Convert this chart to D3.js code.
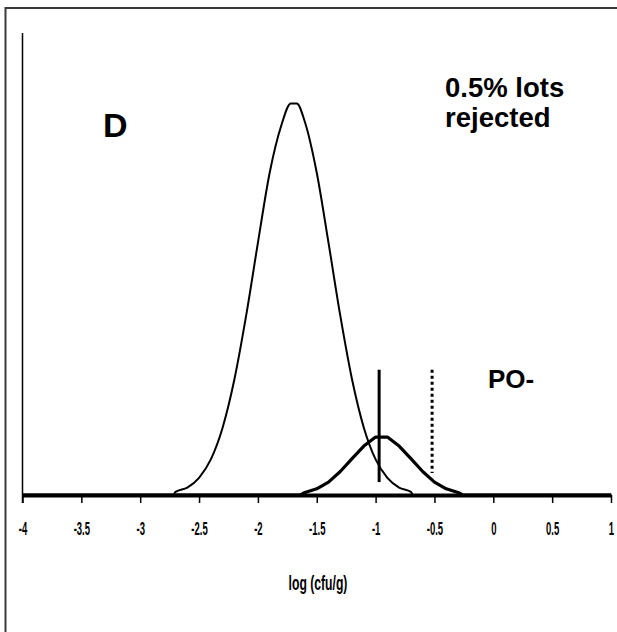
<!DOCTYPE html>
<html>
<head>
<meta charset="utf-8">
<script src="https://cdn.jsdelivr.net/npm/d3@7"></script>
<style>
html,body{margin:0;padding:0;background:#fff;}
svg{display:block;}
</style>
</head>
<body>
<svg id="chart" width="617" height="632"></svg>
<script>
// ---- data (y in relative density units) ----
const xTicks = [-4, -3.5, -3, -2.5, -2, -1.5, -1, -0.5, 0, 0.5, 1];
const tickLabels = ["-4", "-3.5", "-3", "-2.5", "-2", "-1.5", "-1", "-0.5", "0", "0.5", "1"];

const curveAX = [-4.0, -2.72, -2.7, -2.6, -2.5, -2.4, -2.3, -2.2, -2.1, -2.0, -1.9, -1.8, -1.72, -1.67, -1.6, -1.5, -1.4, -1.3, -1.2, -1.1, -1.0, -0.9, -0.8, -0.7, -0.68, 1.0];
const curveAY = [0, 0, 0.008, 0.019, 0.044, 0.091, 0.172, 0.295, 0.458, 0.644, 0.823, 0.945, 1.0, 1.0, 0.952, 0.823, 0.644, 0.458, 0.295, 0.172, 0.091, 0.044, 0.019, 0.008, 0, 0];

const curveBX = [-4.0, -1.64, -1.6, -1.5, -1.4, -1.3, -1.2, -1.1, -1.0, -0.9, -0.8, -0.7, -0.6, -0.5, -0.4, -0.3, -0.26, 1.0];
const curveBY = [0, 0, 0.0065, 0.0158, 0.033, 0.060, 0.093, 0.125, 0.148, 0.148, 0.125, 0.093, 0.060, 0.033, 0.0158, 0.0065, 0, 0];

const markerX = [-0.97, -0.52];
const markerLow = [0.033, 0.056];
const markerHigh = [0.32, 0.32];
const markerStyle = ["solid", "dotted"];

const panelLabel = "D";
const noteLines = ["0.5% lots", "rejected"];
const sideLabel = "PO-";
const xTitle = "log (cfu/g)";

// ---- drawing ----
const svg = d3.select("#chart");
const x = d3.scaleLinear().domain([-4, 1]).range([22.5, 611]);
const y = d3.scaleLinear().domain([0, 1.18]).range([495, 33]);
const sans = "'Liberation Sans', Arial, sans-serif";

// outer frame
svg.append("path")
  .attr("d", d3.line()([[5.5, 632], [5.5, 8], [617, 8]]))
  .attr("fill", "none").attr("stroke", "#3a3a3a").attr("stroke-width", 2);

// y axis (no ticks)
svg.append("line")
  .attr("x1", x(-4)).attr("x2", x(-4))
  .attr("y1", y(1.18)).attr("y2", y(0) + 8)
  .attr("stroke", "#000").attr("stroke-width", 1.5);

// x axis
const xAxis = d3.axisBottom(x).tickValues(xTicks)
  .tickFormat((d, i) => tickLabels[i]).tickSizeInner(8).tickSizeOuter(0).tickPadding(19);
const gx = svg.append("g").attr("transform", `translate(0,${y(0)})`).call(xAxis);
gx.select(".domain").attr("stroke", "#000").attr("stroke-width", 4);
gx.selectAll(".tick line").attr("stroke", "#000").attr("stroke-width", 1.5);
gx.selectAll(".tick text")
  .attr("font-family", sans)
  .attr("font-weight", "bold").attr("font-size", 19).attr("fill", "#000")
  .attr("transform", "scale(0.5,1)");

// curves
const line = d3.line().x(d => x(d[0])).y(d => y(d[1])).curve(d3.curveMonotoneX);
svg.append("path")
  .datum(curveAX.map((v, i) => [v, curveAY[i]]))
  .attr("d", line).attr("fill", "none").attr("stroke", "#000").attr("stroke-width", 2);
svg.append("path")
  .datum(curveBX.map((v, i) => [v, curveBY[i]]))
  .attr("d", d3.line().x(d => x(d[0])).y(d => y(d[1])))
  .attr("fill", "none").attr("stroke", "#000").attr("stroke-width", 3.2).attr("stroke-linejoin", "round");

// marker lines
markerX.forEach((mx, i) => {
  svg.append("line")
    .attr("x1", x(mx)).attr("x2", x(mx))
    .attr("y1", y(markerHigh[i])).attr("y2", y(markerLow[i]))
    .attr("stroke", "#000").attr("stroke-width", 3)
    .attr("stroke-dasharray", markerStyle[i] === "dotted" ? "3,3" : null);
});

// texts
svg.append("text").attr("x", 103).attr("y", 137)
  .attr("font-family", sans).attr("font-weight", "bold").attr("font-size", 34).text(panelLabel);
noteLines.forEach((t, i) => {
  svg.append("text").attr("x", 445).attr("y", 97 + i * 30)
    .attr("font-family", sans).attr("font-weight", "bold").attr("font-size", 27.5).text(t);
});
svg.append("text").attr("x", 488).attr("y", 388)
  .attr("font-family", sans).attr("font-weight", "bold").attr("font-size", 26).text(sideLabel);
svg.append("g").attr("transform", "translate(318,590)")
  .append("text").attr("text-anchor", "middle").attr("transform", "scale(0.58,1)")
  .attr("font-family", sans).attr("font-weight", "bold").attr("font-size", 21).text(xTitle);
</script>
</body>
</html>
